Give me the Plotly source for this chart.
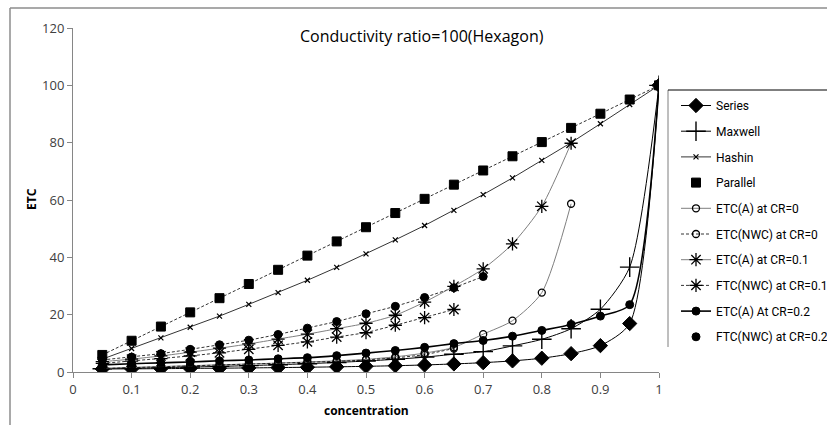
import plotly.graph_objects as go

x_full = [0.05, 0.1, 0.15, 0.2, 0.25, 0.3, 0.35, 0.4, 0.45, 0.5, 0.55, 0.6, 0.65, 0.7, 0.75, 0.8, 0.85, 0.9, 0.95, 1.0]

series_vals = [1.05, 1.10, 1.17, 1.25, 1.33, 1.42, 1.53, 1.66, 1.80, 1.98, 2.19, 2.46, 2.81, 3.26, 3.88, 4.81, 6.4, 9.2, 16.9, 100]
maxwell_vals = [1.15, 1.32, 1.51, 1.72, 1.96, 2.23, 2.54, 2.90, 3.33, 3.83, 4.44, 5.18, 6.2, 7.1, 9.1, 11.4, 15.1, 21.9, 36.6, 100]
hashin_vals = [4.5, 8.2, 11.9, 15.6, 19.5, 23.6, 27.7, 32.0, 36.5, 41.2, 46.1, 51.1, 56.4, 61.9, 67.7, 73.8, 80.0, 86.6, 93.3, 100]
parallel_vals = [5.95, 10.9, 15.85, 20.8, 25.75, 30.7, 35.65, 40.6, 45.55, 50.5, 55.45, 60.4, 65.35, 70.3, 75.25, 80.2, 85.15, 90.1, 95.05, 100]

x_to085 = x_full[:17]
x_to070 = x_full[:14]
x_to065 = x_full[:13]

etc_a_cr0 = [1.3, 1.6, 1.9, 2.2, 2.5, 2.8, 3.1, 3.5, 3.9, 4.4, 5.3, 6.6, 8.6, 13.2, 17.9, 27.7, 58.7]
etc_nwc_cr0 = [1.2, 1.5, 1.8, 2.1, 2.4, 2.7, 3.0, 3.3, 3.7, 4.2, 4.9, 6.0, 8.2]
etc_a_cr01 = [3.6, 4.5, 5.6, 6.9, 8.3, 9.8, 11.5, 13.2, 15.1, 17.0, 19.8, 24.4, 29.9, 36.0, 44.7, 57.8, 79.8]
etc_nwc_cr01 = [3.0, 3.8, 4.7, 5.6, 6.7, 7.9, 9.3, 10.5, 12.2, 13.7, 16.3, 19.0, 21.8]
etc_a_cr02 = [2.5, 2.9, 3.2, 3.5, 3.9, 4.2, 4.6, 5.0, 5.7, 6.6, 7.5, 8.6, 9.9, 11.0, 12.5, 14.5, 16.6, 19.5, 23.5, 100]
etc_nwc_cr02 = [4.2, 5.2, 6.4, 7.9, 9.5, 11.1, 13.1, 15.3, 17.6, 20.3, 22.9, 26.0, 29.4, 33.3]

y_ticks = [0, 20, 40, 60, 80, 100, 120]
x_ticks = [0, 0.1, 0.2, 0.3, 0.4, 0.5, 0.6, 0.7, 0.8, 0.9, 1]
x_tick_text = ["0", "0.1", "0.2", "0.3", "0.4", "0.5", "0.6", "0.7", "0.8", "0.9", "1"]

FONT = "Open Sans, sans-serif"
LFONT = "Roboto, Open Sans, sans-serif"
BLACK = "#000000"
GREY = "#7f7f7f"

fig = go.Figure()

def add(name, x, y, symbol, msize, lcolor=BLACK, lwidth=1, dash="solid", shape="linear",
        mode="lines+markers", mline=None, group=None):
    fig.add_trace(go.Scatter(
        x=x, y=y, name=name, mode=mode,
        line=dict(color=lcolor, width=lwidth, dash=dash, shape=shape, smoothing=0.7),
        marker=dict(symbol=symbol, size=msize, color=BLACK,
                    line=dict(color=BLACK, width=mline if mline is not None else 1)),
        legendgroup=group or name,
    ))

# helper line traces without legend entries
fig.add_trace(go.Scatter(x=x_full, y=parallel_vals, mode="lines", showlegend=False,
                         line=dict(color=BLACK, width=0.8, dash="3px,2px"), hoverinfo="skip"))
fig.add_trace(go.Scatter(x=x_to070, y=etc_nwc_cr02, mode="lines", showlegend=False,
                         line=dict(color=BLACK, width=0.8, dash="3px,2px"), hoverinfo="skip"))

add("Series", x_full, series_vals, "diamond", 11, lcolor=BLACK, lwidth=1, shape="spline")
add("Maxwell", x_full, maxwell_vals, "cross-thin", 14, lcolor=BLACK, lwidth=1, shape="spline", mline=1.4)
add("Hashin", x_full, hashin_vals, "x-thin", 5, lcolor=BLACK, lwidth=0.8, mline=1.2)
add("Parallel", x_full, parallel_vals, "square", 9, mode="markers")
add("ETC(A) at CR=0", x_to085, etc_a_cr0, "circle-open", 7, lcolor=GREY, lwidth=1, shape="spline", mline=1.3)
add("ETC(NWC) at CR=0", x_to065, etc_nwc_cr0, "circle-open", 7, lcolor=BLACK, lwidth=0.8, dash="3px,2px", mline=1.3)
add("ETC(A) at CR=0.1", x_to085, etc_a_cr01, "asterisk-open", 11, lcolor=GREY, lwidth=1, shape="spline", mline=1.3)
add("FTC(NWC) at CR=0.1", x_to065, etc_nwc_cr01, "asterisk-open", 11, lcolor=BLACK, lwidth=0.8, dash="3px,2px", mline=1.3)
add("ETC(A) At CR=0.2", x_full, etc_a_cr02, "circle", 8, lcolor=BLACK, lwidth=1.6, shape="spline")
add("FTC(NWC) at CR=0.2", x_to070, etc_nwc_cr02, "circle", 8, mode="markers")

L, R, T, B = 73, 168, 28, 53
W, H = 827, 425
pw, ph = W - L - R, H - T - B

def px(xp):
    return (xp - L) / pw

def py(yp):
    return (H - B - yp) / ph

shapes = [
    # outer chart border (left & top visible)
    dict(type="line", xref="paper", yref="paper", x0=px(10), x1=px(10), y0=py(8), y1=py(430),
         line=dict(color="#8c8c8c", width=1.5)),
    dict(type="line", xref="paper", yref="paper", x0=px(10), x1=px(830), y0=py(8), y1=py(8),
         line=dict(color="#8c8c8c", width=1.5)),
    # legend frame
    dict(type="line", xref="paper", yref="paper", x0=px(668), x1=px(668), y0=py(90), y1=py(347),
         line=dict(color="#7f7f7f", width=1)),
    dict(type="line", xref="paper", yref="paper", x0=px(668), x1=px(830), y0=py(90), y1=py(90),
         line=dict(color="#000000", width=1)),
]

fig.update_layout(
    width=W, height=H,
    margin=dict(l=L, r=R, t=T, b=B, pad=0, autoexpand=False),
    paper_bgcolor="white", plot_bgcolor="white",
    font=dict(family=FONT, size=12, color="#404040"),
    showlegend=True,
    legend=dict(x=px(676), y=py(91), xanchor="left", yanchor="top",
                bgcolor="rgba(0,0,0,0)", borderwidth=0,
                font=dict(family=LFONT, size=12, color="#000000"),
                traceorder="grouped", tracegroupgap=6.7, itemwidth=30),
    shapes=shapes,
    annotations=[
        dict(text="Conductivity ratio=100(Hexagon)", xref="paper", yref="paper",
             x=px(422), y=py(36), xanchor="center", yanchor="middle", showarrow=False,
             font=dict(family="Open Sans, sans-serif", size=16, color="#000000")),
        dict(text="<b>ETC</b>", xref="paper", yref="paper", x=px(31), y=py(199),
             xanchor="center", yanchor="middle", showarrow=False, textangle=-90,
             font=dict(family=FONT, size=12, color="#000000")),
        dict(text="<b>concentration</b>", xref="paper", yref="paper", x=px(366), y=py(410),
             xanchor="center", yanchor="middle", showarrow=False,
             font=dict(family=FONT, size=12, color="#000000")),
    ],
)

fig.update_xaxes(range=[0, 1], tickvals=x_ticks, ticktext=x_tick_text, showgrid=False, zeroline=False,
                 showline=True, linecolor="#868686", linewidth=1, ticks="outside", ticklen=5,
                 tickcolor="#868686", tickfont=dict(family=FONT, size=13, color="#404040"))
fig.update_yaxes(range=[0, 120], tickvals=y_ticks, showgrid=False, zeroline=False,
                 showline=True, linecolor="#868686", linewidth=1, ticks="outside", ticklen=5,
                 tickcolor="#868686", tickfont=dict(family=FONT, size=13, color="#404040"))

fig.write_html("out.html")
